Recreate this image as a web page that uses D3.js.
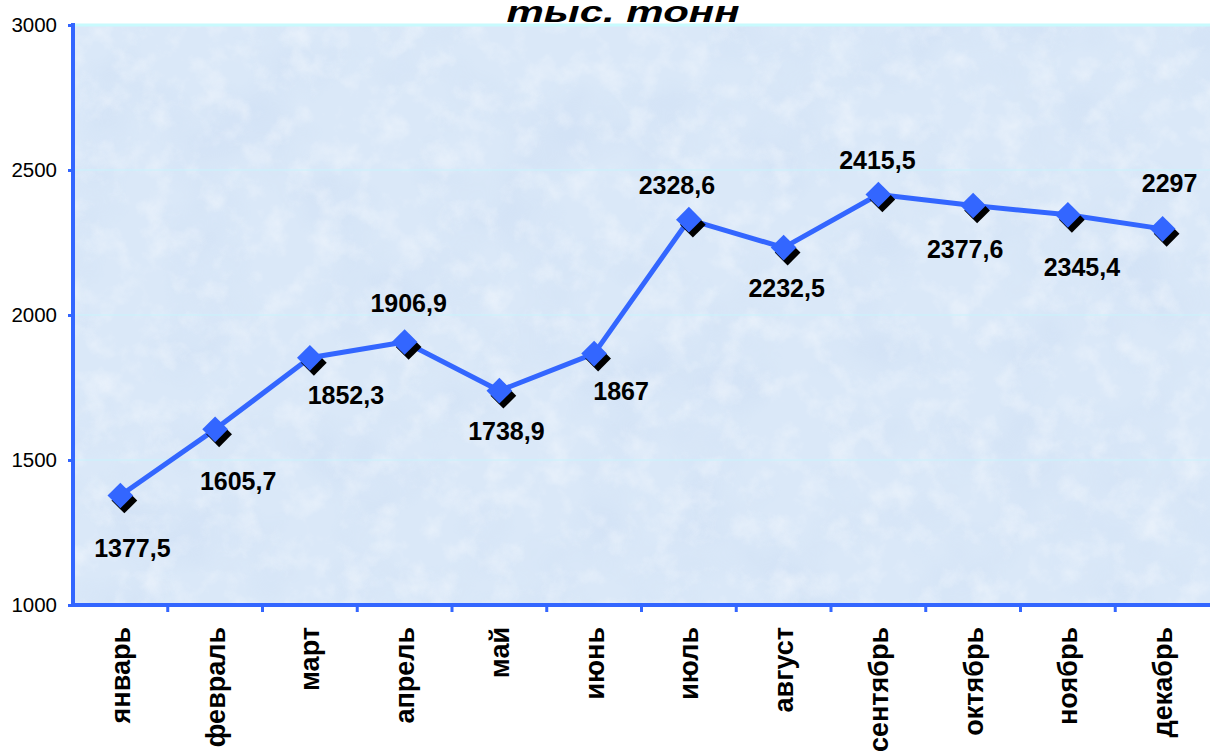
<!DOCTYPE html>
<html>
<head>
<meta charset="utf-8">
<script src="https://cdn.jsdelivr.net/npm/d3@7"></script>
<style>
  html, body { margin: 0; padding: 0; background: #ffffff; }
  svg { display: block; }
</style>
</head>
<body>
<svg id="chart" width="1210" height="753"></svg>
<script>
// ---- data ----
const months = ["январь","февраль","март","апрель","май","июнь","июль","август","сентябрь","октябрь","ноябрь","декабрь"];
const values = [1377.5, 1605.7, 1852.3, 1906.9, 1738.9, 1867, 2328.6, 2232.5, 2415.5, 2377.6, 2345.4, 2297];
const valueLabels = ["1377,5","1605,7","1852,3","1906,9","1738,9","1867","2328,6","2232,5","2415,5","2377,6","2345,4","2297"];
const yTicks = [1000, 1500, 2000, 2500, 3000];
const titleText = "тыс. тонн";

// ---- layout (label placement relative to point) ----
const labelDx = [12, 23, 36, 4, 7, 27, -12, 3, -1, -8, 14, 7];
const labelDy = [61, 61, 46, -30, 49, 46, -26, 49, -26, 53, 61, -37];

const svg = d3.select("#chart");
const pL = 73, pR = 1210, pT = 25, pB = 605;

const x = d3.scaleBand().domain(months).range([pL, pR]).padding(0);
const y = d3.scaleLinear().domain([1000, 3000]).range([pB, pT]);

// texture filter
const defs = svg.append("defs");
const f = defs.append("filter").attr("id", "tex").attr("x", 0).attr("y", 0).attr("width", 1).attr("height", 1);
f.append("feTurbulence").attr("type", "fractalNoise").attr("baseFrequency", 0.035).attr("numOctaves", 4).attr("seed", 7).attr("result", "n");
f.append("feColorMatrix").attr("in", "n").attr("type", "matrix")
  .attr("values", "0 0 0 0 1  0 0 0 0 1  0 0 0 0 1  1.6 0 0 0 -0.75").attr("result", "w");
f.append("feComposite").attr("in", "w").attr("in2", "SourceGraphic").attr("operator", "in");

const f2 = defs.append("filter").attr("id", "tex2").attr("x", 0).attr("y", 0).attr("width", 1).attr("height", 1);
f2.append("feTurbulence").attr("type", "fractalNoise").attr("baseFrequency", 0.012).attr("numOctaves", 3).attr("seed", 3).attr("result", "n");
f2.append("feColorMatrix").attr("in", "n").attr("type", "matrix")
  .attr("values", "0 0 0 0 0.55  0 0 0 0 0.68  0 0 0 0 0.88  0 1.4 0 0 -0.62").attr("result", "b");
f2.append("feComposite").attr("in", "b").attr("in2", "SourceGraphic").attr("operator", "in");

// plot background
svg.append("rect").attr("x", pL).attr("y", pT).attr("width", pR - pL).attr("height", pB - pT).attr("fill", "#dae8f8");
svg.append("rect").attr("x", pL).attr("y", pT).attr("width", pR - pL).attr("height", pB - pT).attr("fill", "#fff").attr("filter", "url(#tex2)").attr("opacity", 0.5);
svg.append("rect").attr("x", pL).attr("y", pT).attr("width", pR - pL).attr("height", pB - pT).attr("fill", "#fff").attr("filter", "url(#tex)").attr("opacity", 0.55);

// gridlines
svg.append("g").selectAll("line").data(yTicks.slice(1, -1)).join("line")
  .attr("x1", pL).attr("x2", pR).attr("y1", d => y(d)).attr("y2", d => y(d))
  .attr("stroke", "#c8f4fc").attr("stroke-width", 1);
// top border
svg.append("line").attr("x1", pL).attr("x2", pR).attr("y1", pT).attr("y2", pT)
  .attr("stroke", "#c8fafd").attr("stroke-width", 3);

// y axis
const yAxis = svg.append("g").attr("transform", `translate(${pL},0)`)
  .call(d3.axisLeft(y).tickValues(yTicks).tickSize(5).tickPadding(11).tickFormat(d3.format("d")));
yAxis.select(".domain").attr("stroke", "#3366ff").attr("stroke-width", 4).attr("d", `M0,${pT - 2}V${pB + 2}`);
yAxis.selectAll(".tick line").attr("stroke", "#3366ff").attr("stroke-width", 3);
yAxis.selectAll(".tick text").attr("font-family", "Liberation Sans, Arial, sans-serif").attr("font-size", 20.5).attr("fill", "#000");

// x axis
const xAxis = svg.append("g").attr("transform", `translate(0,${pB})`)
  .call(d3.axisBottom(x).tickSize(0).tickFormat(d => d));
xAxis.select(".domain").attr("stroke", "#3366ff").attr("stroke-width", 4).attr("d", `M${pL - 2},0H${pR}`);
xAxis.selectAll(".tick text")
  .attr("font-family", "Liberation Sans, Arial, sans-serif").attr("font-size", 27).attr("font-weight", "bold").attr("fill", "#000")
  .attr("transform", "rotate(-90)").attr("text-anchor", "end").attr("dy", "0.35em").attr("x", -22).attr("y", 0);
// x tick marks at band boundaries
xAxis.append("g").selectAll("line").data(months.slice(1)).join("line")
  .attr("x1", d => x(d)).attr("x2", d => x(d)).attr("y1", 0).attr("y2", 7)
  .attr("stroke", "#3366ff").attr("stroke-width", 3);

// line
const cx = (d, i) => x(months[i]) + x.bandwidth() / 2;
const line = d3.line().x((d, i) => cx(d, i)).y(d => y(d));
svg.append("path").datum(values).attr("d", line).attr("fill", "none")
  .attr("stroke", "#3366ff").attr("stroke-width", 5).attr("stroke-linejoin", "round");

// markers
const diamond = d3.symbol().type(d3.symbolSquare).size(330);
const mk = svg.append("g");
mk.selectAll("path.sh").data(values).join("path").attr("class", "sh")
  .attr("d", diamond).attr("fill", "#000")
  .attr("transform", (d, i) => `translate(${cx(d, i) + 4},${y(d) + 5}) rotate(45)`);
mk.selectAll("path.mk").data(values).join("path").attr("class", "mk")
  .attr("d", diamond).attr("fill", "#3366ff")
  .attr("transform", (d, i) => `translate(${cx(d, i)},${y(d)}) rotate(45)`);

// value labels
svg.append("g").selectAll("text").data(values).join("text")
  .attr("x", (d, i) => cx(d, i) + labelDx[i]).attr("y", (d, i) => y(d) + labelDy[i])
  .attr("text-anchor", "middle")
  .attr("font-family", "Liberation Sans, Arial, sans-serif").attr("font-size", 25).attr("font-weight", "bold").attr("fill", "#000")
  .text((d, i) => valueLabels[i]);

// title
svg.append("text").attr("x", 623).attr("y", 22).attr("text-anchor", "middle")
  .attr("font-family", "Liberation Sans, Arial, sans-serif").attr("font-size", 30).attr("font-weight", "bold").attr("font-style", "italic")
  .attr("textLength", 233).attr("lengthAdjust", "spacingAndGlyphs")
  .attr("fill", "#000").text(titleText);
</script>
</body>
</html>
